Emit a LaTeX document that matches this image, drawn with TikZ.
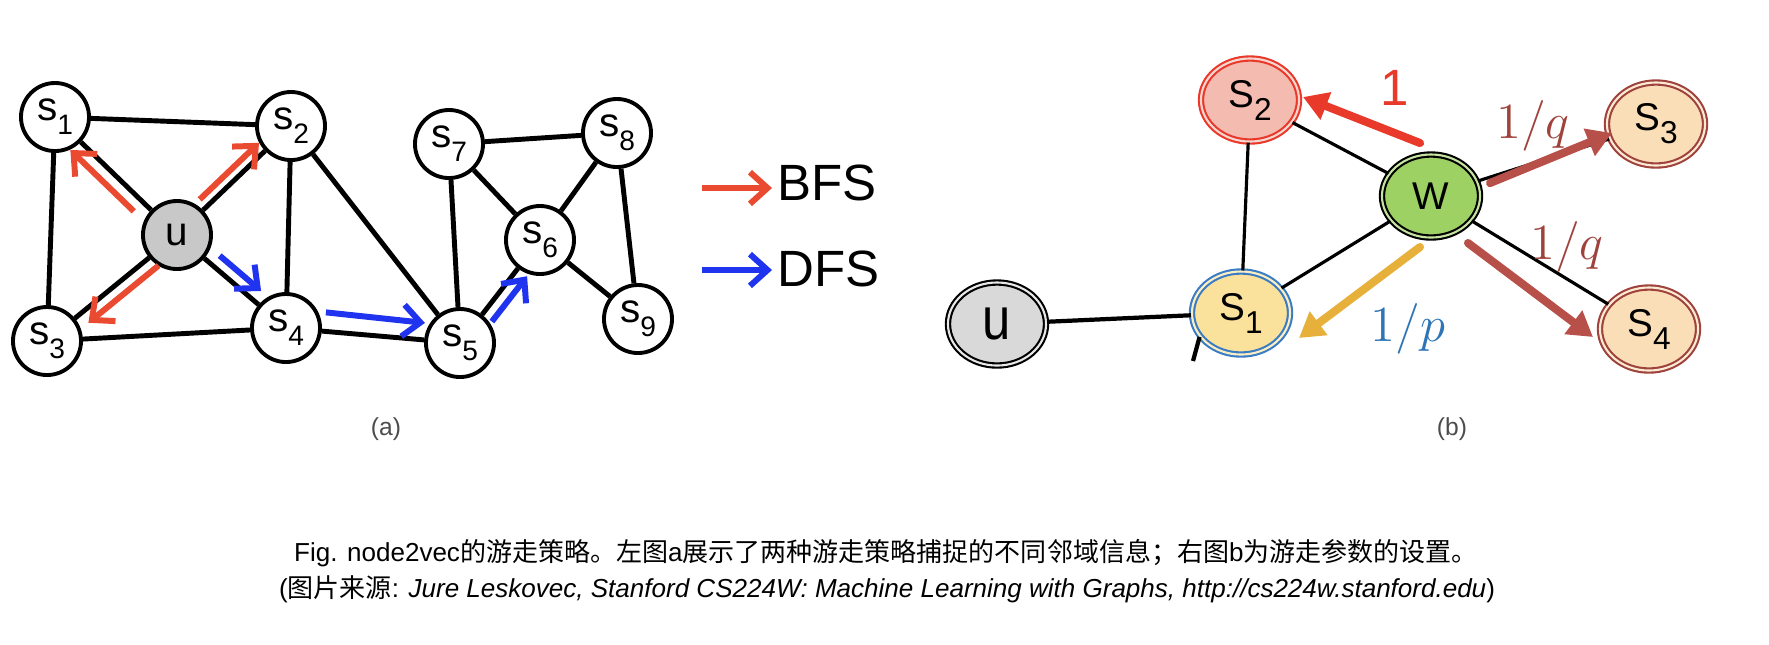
\documentclass[tikz,border=0pt]{standalone}
\usepackage{fontspec}
\setmainfont{Liberation Sans}
\newfontfamily\cjk{Noto Sans CJK SC}
\usetikzlibrary{positioning, shapes.geometric, arrows.meta, calc}

\definecolor{bfsred}{RGB}{234,74,47}
\definecolor{dfsblue}{RGB}{32,52,240}
\definecolor{ugray}{RGB}{200,200,200}
\definecolor{wgreen}{RGB}{158,209,99}
\definecolor{stwofill}{RGB}{244,187,176}
\definecolor{stwoline}{RGB}{232,57,42}
\definecolor{peach}{RGB}{250,222,184}
\definecolor{brownred}{RGB}{160,66,60}
\definecolor{arrowbrown}{RGB}{184,80,74}
\definecolor{sonefill}{RGB}{250,226,156}
\definecolor{soneline}{RGB}{58,124,196}
\definecolor{pblue}{RGB}{46,117,182}
\definecolor{yarrow}{RGB}{230,176,58}
\definecolor{lightgray}{RGB}{217,217,217}

\newcommand{\slbl}[1]{s\raisebox{-4pt}{\fontsize{8}{8}\selectfont #1}}
\newcommand{\Slbl}[1]{S\raisebox{-3.7pt}{\fontsize{9}{9}\selectfont #1}}

\tikzset{
  vtx/.style={circle, draw, line width=1.1pt, fill=white, minimum size=0.68cm,
    inner sep=0pt, font=\fontsize{11.5}{11.5}\selectfont},
  edge/.style={line width=1.4pt},
  bfs/.style={bfsred, line width=1.7pt, -{Straight Barb[length=5pt, width=9pt]}},
  dfs/.style={dfsblue, line width=1.7pt, -{Straight Barb[length=5pt, width=9pt]}},
  rnode/.style={ellipse, inner sep=0pt, line width=0.6pt, double distance=0.6pt,
    minimum width=0.98cm, minimum height=0.83cm, font=\fontsize{11}{11}\selectfont},
  thinedge/.style={line width=0.9pt},
  fat/.style={line width=2.3pt, line cap=round, -{Triangle[length=7pt, width=8pt]}},
  weight/.style={font=\fontsize{14.5}{14.5}\selectfont},
  sublabel/.style={text=black!70, font=\fontsize{7}{7}\selectfont},
  caption/.style={font=\fontsize{7.4}{7.4}\selectfont}
}

\begin{document}
\begin{tikzpicture}[x=0.01cm, y=-0.01cm]
  \useasboundingbox (0,0) rectangle (1769,644);

  % (a) graph
  \node[vtx] (s1) at (55,117) {\slbl{1}};
  \node[vtx] (s2) at (291,126) {\slbl{2}};
  \node[vtx, fill=ugray] (u) at (177,235) {u};
  \node[vtx] (s3) at (47,341) {\slbl{3}};
  \node[vtx] (s4) at (286,328) {\slbl{4}};
  \node[vtx] (s7) at (449,144) {\slbl{7}};
  \node[vtx] (s8) at (617,133) {\slbl{8}};
  \node[vtx] (s6) at (540,240) {\slbl{6}};
  \node[vtx] (s5) at (460,343) {\slbl{5}};
  \node[vtx] (s9) at (638,319) {\slbl{9}};

  \foreach \a/\b in {s1/s2, s1/u, s1/s3, u/s2, u/s3, u/s4, s2/s4, s2/s5, s3/s4,
                     s4/s5, s5/s7, s5/s6, s7/s8, s7/s6, s8/s6, s8/s9, s6/s9}
    \draw[edge] (\a) -- (\b);

  % walks
  \draw[bfs] ($(u)!0.28!(s1)!0.13cm!90:(s1)$) -- ($(u)!0.8!(s1)!0.13cm!90:(s1)$);
  \draw[bfs] ($(u)!0.26!(s2)!0.1cm!90:(s2)$) -- ($(u)!0.78!(s2)!0.1cm!90:(s2)$);
  \draw[bfs] ($(u)!0.2!(s3)!0.12cm!90:(s3)$) -- ($(u)!0.74!(s3)!0.12cm!90:(s3)$);
  \draw[dfs] ($(u)!0.32!(s4)!0.12cm!90:(s4)$) -- ($(u)!0.7!(s4)!0.12cm!90:(s4)$);
  \draw[dfs] ($(s4)!0.22!(s5)!0.19cm!90:(s5)$) -- ($(s4)!0.79!(s5)!0.17cm!90:(s5)$);
  \draw[dfs] ($(s5)!0.28!(s6)!0.12cm!-90:(s6)$) -- ($(s5)!0.72!(s6)!0.12cm!-90:(s6)$);

  % legend
  \node[font=\fontsize{14.5}{14.5}\selectfont, inner sep=0pt, anchor=west] (bfslbl) at (777,183) {BFS};
  \node[font=\fontsize{14.5}{14.5}\selectfont, inner sep=0pt, anchor=west] (dfslbl) at (777,269) {DFS};
  \draw[bfs] ($(bfslbl.west)+(-75,5)$) -- ($(bfslbl.west)+(-5,5)$);
  \draw[dfs] ($(dfslbl.west)+(-75,1)$) -- ($(dfslbl.west)+(-5,1)$);

  \node[sublabel] (alabel) at (386,429) {(a)};

  % (b) graph
  \node[rnode, draw=stwoline, double=stwofill!60!white, fill=stwofill] (S2) at (1250,100) {\Slbl{2}};
  \node[rnode, draw=black, double=wgreen!60!white, fill=wgreen] (W) at (1431,196) {W};
  \node[rnode, draw=brownred, double=peach!60!white, fill=peach] (S3) at (1656,124) {\Slbl{3}};
  \node[rnode, draw=brownred, double=peach!60!white, fill=peach] (S4) at (1649,329) {\Slbl{4}};
  \node[rnode, draw=soneline, double=sonefill!60!white, fill=sonefill] (S1) at (1241,313) {\Slbl{1}};
  \node[rnode, draw=black, double=lightgray!60!white, fill=lightgray,
        font=\fontsize{17}{17}\selectfont] (ru) at (997,324) {\scalebox{0.85}[1]{u}};
  \coordinate (tail) at (1193,361);

  \draw[thinedge] (S2) -- (S1);
  \draw[thinedge] (S2) -- (W);
  \draw[thinedge] (W) -- (S3);
  \draw[thinedge] (W) -- (S4);
  \draw[thinedge] (W) -- (S1);
  \draw[line width=1.2pt] (ru) -- (S1);
  \draw[line width=1.2pt] (S1.210) -- (tail);

  % transition weights
  \draw[fat, stwoline] ($(W)+(-11,-53)$) -- ($(S2)+(53,-3)$);
  \draw[fat, arrowbrown] ($(W)+(59,-13)$) -- ($(S3)+(-44,9)$);
  \draw[fat, arrowbrown] ($(W)+(37,47)$) -- ($(S4)+(-56,8)$);
  \draw[fat, yarrow] ($(W)+(-11,51)$) -- ($(S1)+(58,25)$);

  \node[weight, text=stwoline] (wone) at (1395,88) {1};
  \node[weight, text=brownred] (wqa) at (1533,126) {$1/q$};
  \node[weight, text=brownred] (wqb) at (1567,247) {$1/q$};
  \node[weight, text=pblue] (wp) at (1408,329) {$1/p$};

  \node[sublabel] (blabel) at (1452,429) {(b)};

  % caption
  \node[caption] (cap1) at (886,553) {Fig. node2vec{\cjk 的游走策略。左图}a{\cjk 展示了两种游走策略捕捉的不同邻域信息；右图}b{\cjk 为游走参数的设置。}};
  \node[caption] (cap2) at (887,589) {({\cjk 图片来源}: \textit{Jure Leskovec, Stanford CS224W: Machine Learning with Graphs, http://cs224w.stanford.edu})};
\end{tikzpicture}
\end{document}
